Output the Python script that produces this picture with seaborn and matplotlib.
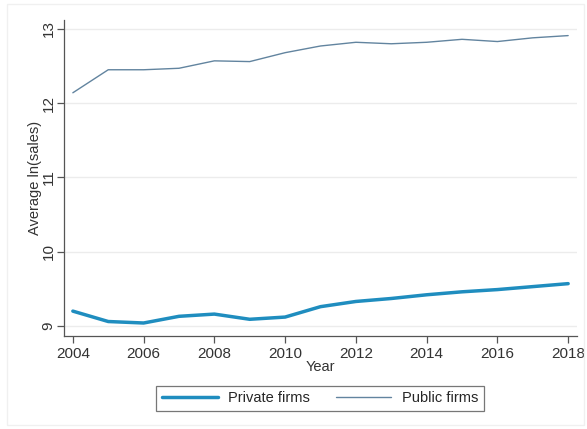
import numpy as np
import pandas as pd
import matplotlib
matplotlib.use("Agg")
import matplotlib.pyplot as plt
import seaborn as sns

years = list(range(2004, 2019))
private_firms = [9.20, 9.06, 9.04, 9.13, 9.16, 9.09, 9.12, 9.26, 9.33, 9.37, 9.42, 9.46, 9.49, 9.53, 9.57]
public_firms = [12.14, 12.45, 12.45, 12.47, 12.57, 12.56, 12.68, 12.77, 12.82, 12.80, 12.82, 12.86, 12.83, 12.88, 12.91]
series_names = ["Private firms", "Public firms"]
x_ticks = [2004, 2006, 2008, 2010, 2012, 2014, 2016, 2018]
y_ticks = [9, 10, 11, 12, 13]

df = pd.DataFrame({
    "Year": years * 2,
    "value": private_firms + public_firms,
    "series": [series_names[0]] * len(years) + [series_names[1]] * len(years),
})

sns.set_style("ticks")
plt.rcParams["font.family"] = ["Liberation Sans", "DejaVu Sans"]

fig = plt.figure(figsize=(5.87, 4.29), dpi=100)
fig.patch.set_facecolor("white")
ax = fig.add_axes([64 / 587, 1 - 336 / 429, (577 - 64) / 587, (336 - 20) / 429])

palette = {"Private firms": "#1f8dbf", "Public firms": "#62849f"}
sizes = {"Private firms": 2.5, "Public firms": 1.0}
sns.lineplot(data=df, x="Year", y="value", hue="series", size="series",
             palette=palette, sizes=sizes, ax=ax, legend=False)

ax.set_xlim(2003.75, 2018.25)
ax.set_ylim(8.865, 13.12)
ax.set_xticks(x_ticks)
ax.set_yticks(y_ticks)
ax.set_xticklabels([str(t) for t in x_ticks], fontsize=11, color="#333333")
ax.set_yticklabels([str(t) for t in y_ticks], fontsize=11, color="#333333",
                   rotation=90, va="center")
ax.tick_params(axis="both", direction="out", length=5, width=0.9, color="#555555")
ax.tick_params(axis="x", pad=3)
ax.tick_params(axis="y", pad=1)
ax.grid(axis="y", color="#ececec", linewidth=1.0)
ax.set_axisbelow(True)
for side in ["top", "right"]:
    ax.spines[side].set_visible(False)
for side in ["left", "bottom"]:
    ax.spines[side].set_color("#555555")
    ax.spines[side].set_linewidth(0.9)

ax.set_xlabel("Year", fontsize=10.5, color="#333333", labelpad=-1)
ax.set_ylabel("Average ln(sales)", fontsize=10.5, color="#333333", labelpad=0)

from matplotlib.lines import Line2D
handles = [Line2D([], [], color=palette[n], linewidth=sizes[n]) for n in series_names]
leg = fig.legend(handles, series_names, loc="center", bbox_to_anchor=(320 / 587, 1 - 398.5 / 429),
                 ncol=2, frameon=True, fontsize=10.5, fancybox=False, handlelength=3.8,
                 columnspacing=1.8, borderpad=0.4, handletextpad=0.7, borderaxespad=0)
leg.get_frame().set_edgecolor("#555555")
leg.get_frame().set_linewidth(0.9)

from matplotlib.patches import Rectangle
fig.patches.append(Rectangle((7 / 587, 4 / 429), 577 / 587, 421 / 429, transform=fig.transFigure,
                             fill=False, edgecolor="#f0f0f0", linewidth=1.0))

fig.savefig("out.png", dpi=100)
